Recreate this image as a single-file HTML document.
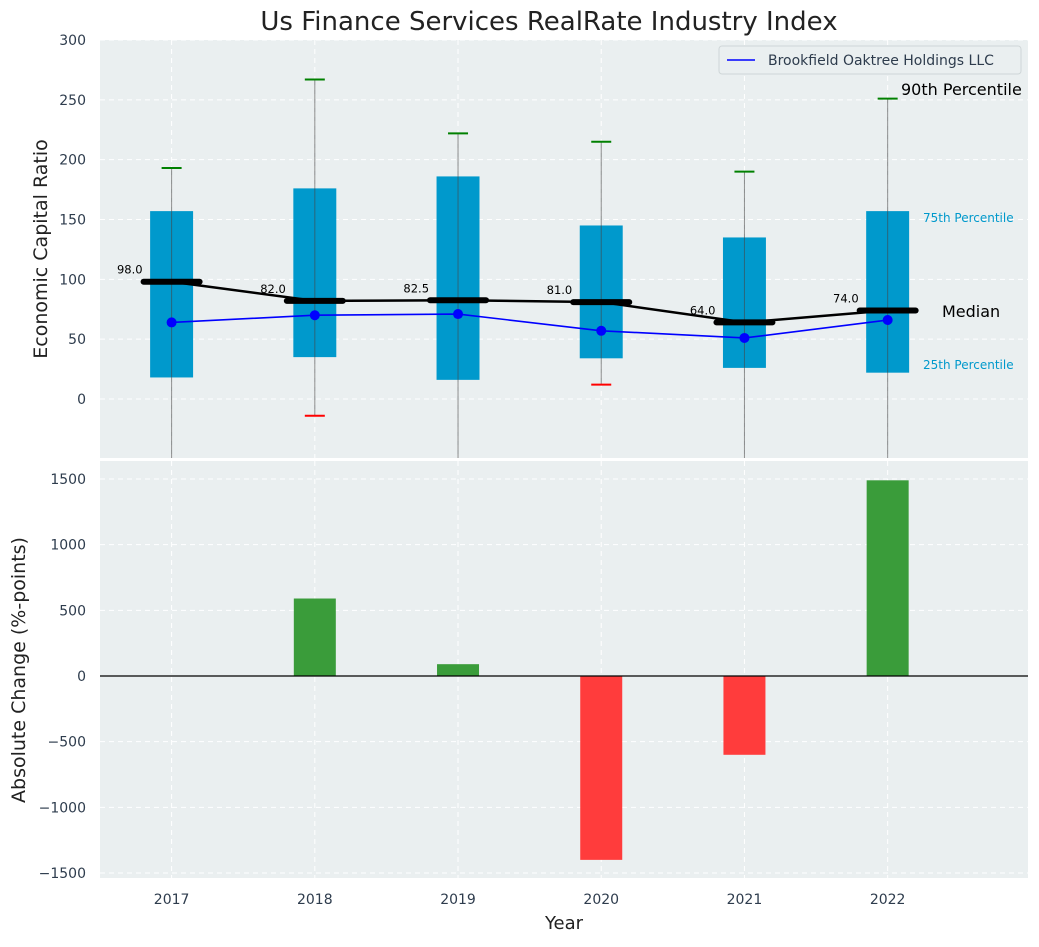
<!DOCTYPE html>
<html><head><meta charset="utf-8"><style>
body{margin:0;background:#fff;font-family:"Liberation Sans","DejaVu Sans",sans-serif}
svg text{font-family:"DejaVu Sans","Liberation Sans",sans-serif}
</style></head><body>
<svg id="c" width="1039" height="942" xmlns="http://www.w3.org/2000/svg"></svg>
<script>
const years=[2017,2018,2019,2020,2021,2022];
const q1=[18,35,16,34,26,22];
const q3=[157,176,186,145,135,157];
const medians=[98,82,82.5,81,64,74];
const p90=[193,267,222,215,190,251];
const p10=[-80,-14,-80,12,-80,-80];
const company=[64,70,71,57,51,66];
const changes=[0,590,90,-1400,-600,1490];
const yTicksTop=[0,50,100,150,200,250,300];
const yTicksBot=[-1500,-1000,-500,0,500,1000,1500];

const svg=document.getElementById('c');
const NS='http://www.w3.org/2000/svg';
function el(t,a,p){const e=document.createElementNS(NS,t);for(const k in a)e.setAttribute(k,a[k]);(p||svg).appendChild(e);return e;}
const L=100,R=1028;
const x=v=>L+(v-2016.5)/(2022.98-2016.5)*(R-L);
const yT=v=>399-v*(359/300);
const yB=v=>676-v*(197/1500);
const TT=40,TB=458,BT=461,BB=878;

let bg=el('rect',{x:L,y:TT,width:R-L,height:TB-TT,fill:'#eaeff0'});

let bg2=el('rect',{x:L,y:BT,width:R-L,height:BB-BT,fill:'#eaeff0'});


const grid='#ffffff';
yTicksTop.forEach(v=>{
  const y=yT(v);
  el('line',{x1:L,x2:R,y1:y,y2:y,stroke:grid,'stroke-dasharray':'5,4','stroke-width':1});
  const t=el('text',{x:L-14,y:y+5,'text-anchor':'end','font-size':14,fill:'#2e3c4d'});t.textContent=v;
  
});
yTicksBot.forEach(v=>{
  const y=yB(v);
  el('line',{x1:L,x2:R,y1:y,y2:y,stroke:grid,'stroke-dasharray':'5,4','stroke-width':1});
  const t=el('text',{x:L-14,y:y+5,'text-anchor':'end','font-size':14,fill:'#2e3c4d'});t.textContent=v.toString().replace('-','−');
  
});
years.forEach(yr=>{
  const xx=x(yr);
  el('line',{x1:xx,x2:xx,y1:TT,y2:TB,stroke:grid,'stroke-dasharray':'5,4'});
  el('line',{x1:xx,x2:xx,y1:BT,y2:BB,stroke:grid,'stroke-dasharray':'5,4'});
  const t=el('text',{x:xx,y:904,'text-anchor':'middle','font-size':14,fill:'#2e3c4d'});t.textContent=yr;
  
});

const defs=el('defs',{});
const cp=el('clipPath',{id:'ct'},defs);el('rect',{x:L,y:TT,width:R-L,height:TB-TT},cp);
const g=el('g',{'clip-path':'url(#ct)'});
const bw=0.3*(R-L)/(2022.98-2016.5);
years.forEach((yr,i)=>{
  const xx=x(yr);
  const b=el('rect',{x:xx-bw/2,y:yT(q3[i]),width:bw,height:yT(q1[i])-yT(q3[i]),fill:'#0099cc'},g);
  
  const w=el('line',{x1:xx,x2:xx,y1:yT(p90[i]),y2:yT(p10[i]),stroke:'#444','stroke-opacity':0.6,'stroke-width':1},g);
  
  const c1=el('line',{x1:xx-10,x2:xx+10,y1:yT(p90[i]),y2:yT(p90[i]),stroke:'green','stroke-width':2},g);
  
  const c2=el('line',{x1:xx-10,x2:xx+10,y1:yT(p10[i]),y2:yT(p10[i]),stroke:'red','stroke-width':2},g);
  
});
const ml=el('polyline',{points:years.map((yr,i)=>x(yr)+','+yT(medians[i])).join(' '),fill:'none',stroke:'#000','stroke-width':2.5},g);

years.forEach((yr,i)=>{
  const xx=x(yr);
  const m=el('line',{x1:xx-28,x2:xx+28,y1:yT(medians[i]),y2:yT(medians[i]),stroke:'#000','stroke-width':6,'stroke-linecap':'round'},g);
  
  const t=el('text',{x:xx-29,y:yT(medians[i])-8,'text-anchor':'end','font-size':11.5,fill:'#000'},g);
  t.textContent=medians[i].toFixed(1);
  
});
const cl=el('polyline',{points:years.map((yr,i)=>x(yr)+','+yT(company[i])).join(' '),fill:'none',stroke:'#0000ff','stroke-width':1.6},g);

years.forEach((yr,i)=>{
  const p=el('circle',{cx:x(yr),cy:yT(company[i]),r:5,fill:'#0000ff'},g);
  
});
const ann=[['90th Percentile',901,95,16,'#000'],['75th Percentile',923,222,12,'#0099cc'],['Median',942,317,16,'#000'],['25th Percentile',923,369,12,'#0099cc']];
ann.forEach(a=>{const t=el('text',{x:a[1],y:a[2],'font-size':a[3],fill:a[4]});t.textContent=a[0];
  });

const lg=el('g',{});
el('rect',{x:719,y:46,width:302,height:28,rx:3,fill:'#eaeff0',stroke:'#cfd6d8'},lg);
el('line',{x1:727,x2:755,y1:60,y2:60,stroke:'#0000ff','stroke-width':1.6},lg);
const lt=el('text',{x:768,y:65,'font-size':14,fill:'#2e3c4d'},lg);lt.textContent='Brookfield Oaktree Holdings LLC';

years.forEach((yr,i)=>{
  const xx=x(yr),v=changes[i];
  const b=el('rect',{x:xx-21,y:Math.min(yB(v),yB(0)),width:42,height:Math.abs(yB(v)-yB(0)),fill:v>=0?'#3a9c3a':'#ff3c3c'});
  
});
el('line',{x1:L,x2:R,y1:yB(0),y2:yB(0),stroke:'#000','stroke-width':1.2});

const T=[['Us Finance Services RealRate Industry Index',549,30,26,'title',0],['Year',564,929,18,'x-axis-title',0],
['Economic Capital Ratio',47,249,19,'y-axis-title-top',1],['Absolute Change (%-points)',25,670,19,'y-axis-title-bottom',1]];
T.forEach(a=>{const t=el('text',{x:a[1],y:a[2],'font-size':a[3],'text-anchor':'middle',fill:'#222'});
  if(a[5])t.setAttribute('transform','rotate(-90 '+a[1]+' '+a[2]+')');
  t.textContent=a[0];});
</script>
</body></html>
